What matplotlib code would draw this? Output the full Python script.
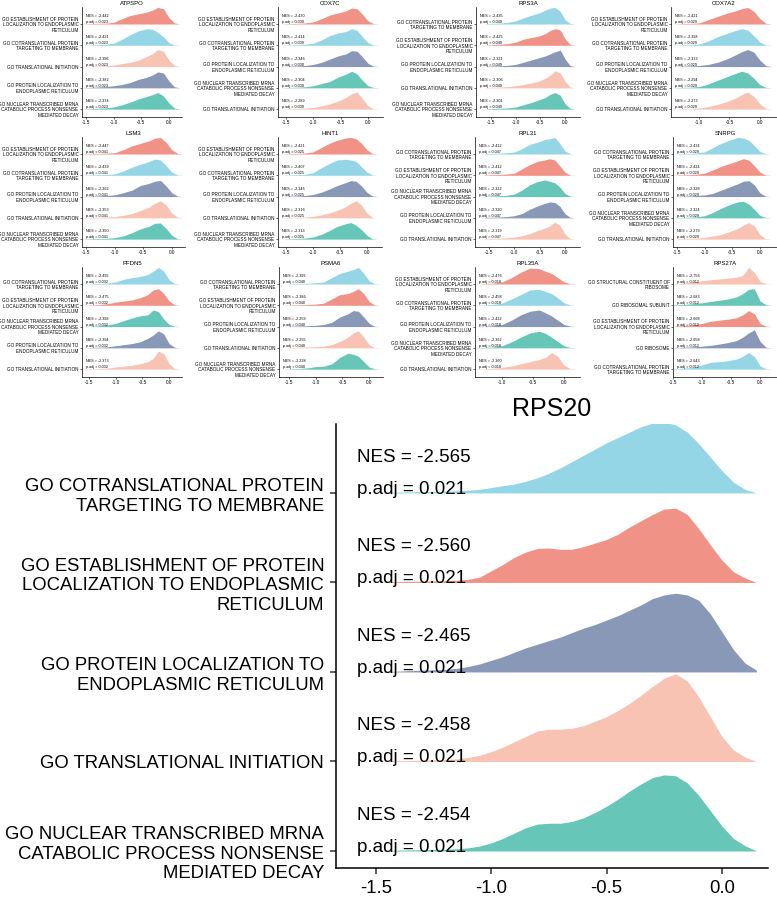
import numpy as np
import matplotlib.pyplot as plt
from matplotlib.transforms import blended_transform_factory

plt.rcParams['font.family'] = ['Liberation Sans', 'DejaVu Sans']
plt.rcParams['axes.unicode_minus'] = False

# pathway labels
EST = "GO ESTABLISHMENT OF PROTEIN\nLOCALIZATION TO ENDOPLASMIC\nRETICULUM"
COT = "GO COTRANSLATIONAL PROTEIN\nTARGETING TO MEMBRANE"
TIN = "GO TRANSLATIONAL INITIATION"
PLE = "GO PROTEIN LOCALIZATION TO\nENDOPLASMIC RETICULUM"
NMD = "GO NUCLEAR TRANSCRIBED MRNA\nCATABOLIC PROCESS NONSENSE\nMEDIATED DECAY"
SCR = "GO STRUCTURAL CONSTITUENT OF\nRIBOSOME"
RSU = "GO RIBOSOMAL SUBUNIT"
RIB = "GO RIBOSOME"

# x positions where the ridge heights of the small panels were read
x_small = [-1.6, -1.45, -1.3, -1.15, -1.0, -0.85, -0.7, -0.55, -0.4, -0.3, -0.2, -0.1, 0.0, 0.1, 0.2]

terms_ATPSPO = [EST, COT, TIN, PLE, NMD]
nes_ATPSPO = [-2.442, -2.431, -2.396, -2.382, -2.334]
padj_ATPSPO = 0.023
dens_ATPSPO = [
    [0, .02, .03, .04, .08, .25, .40, .48, .56, .65, .78, .72, .30, .05, 0],
    [0, .02, .03, .05, .10, .28, .50, .68, .78, .75, .60, .40, .12, .02, 0],
    [0, .02, .03, .04, .07, .14, .20, .30, .48, .60, .80, .72, .30, .05, 0],
    [0, .02, .04, .06, .10, .16, .25, .40, .50, .60, .75, .70, .32, .05, 0],
    [0, .02, .04, .06, .10, .20, .33, .48, .60, .68, .78, .62, .28, .05, 0]]

terms_COX7C = [EST, COT, PLE, NMD, TIN]
nes_COX7C = [-2.430, -2.414, -2.346, -2.304, -2.289]
padj_COX7C = 0.030
dens_COX7C = [
    [0, .02, .03, .05, .10, .25, .42, .52, .62, .75, .72, .45, .15, .02, 0],
    [0, .02, .03, .05, .10, .25, .45, .58, .65, .78, .70, .40, .12, .02, 0],
    [0, .02, .03, .05, .10, .20, .35, .50, .60, .75, .72, .45, .15, .02, 0],
    [0, .02, .03, .05, .10, .20, .30, .50, .65, .78, .65, .35, .10, .02, 0],
    [0, .02, .03, .05, .08, .15, .25, .38, .55, .72, .80, .50, .15, .02, 0]]

terms_RPS3A = [COT, EST, PLE, TIN, NMD]
nes_RPS3A = [-2.435, -2.425, -2.321, -2.306, -2.301]
padj_RPS3A = 0.049
dens_RPS3A = [
    [.02, .03, .05, .08, .15, .28, .40, .50, .65, .75, .78, .60, .20, .03, 0],
    [.02, .03, .05, .08, .15, .28, .36, .42, .55, .70, .78, .72, .30, .04, 0],
    [.02, .03, .04, .06, .10, .20, .30, .40, .50, .60, .70, .78, .35, .05, 0],
    [.02, .03, .04, .06, .10, .15, .22, .30, .45, .60, .80, .70, .30, .04, 0],
    [.02, .03, .04, .06, .10, .20, .30, .42, .55, .70, .78, .65, .25, .04, 0]]

terms_COX7A2 = [EST, COT, PLE, NMD, TIN]
nes_COX7A2 = [-2.421, -2.398, -2.333, -2.294, -2.273]
padj_COX7A2 = 0.029
dens_COX7A2 = [
    [0, 0, .02, .03, .05, .20, .35, .50, .62, .72, .78, .60, .25, .03, 0],
    [0, 0, .02, .03, .06, .20, .40, .55, .70, .78, .72, .45, .15, .02, 0],
    [0, 0, .02, .03, .05, .10, .20, .35, .55, .70, .80, .68, .30, .04, 0],
    [0, 0, .02, .03, .06, .18, .35, .52, .68, .78, .70, .45, .15, .02, 0],
    [0, 0, .02, .03, .05, .12, .22, .35, .52, .68, .80, .60, .25, .03, 0]]

terms_LSM3 = [EST, COT, PLE, TIN, NMD]
nes_LSM3 = [-2.447, -2.439, -2.362, -2.353, -2.350]
padj_LSM3 = 0.041
dens_LSM3 = [
    [0, .02, .03, .04, .06, .20, .38, .50, .62, .74, .78, .55, .20, .03, 0],
    [0, .02, .03, .04, .07, .20, .38, .52, .65, .76, .72, .45, .15, .02, 0],
    [0, .02, .03, .05, .08, .18, .30, .52, .62, .72, .76, .50, .18, .02, 0],
    [0, .02, .03, .04, .06, .12, .20, .35, .50, .68, .80, .60, .22, .03, 0],
    [0, .02, .03, .04, .07, .15, .30, .48, .60, .74, .76, .50, .18, .02, 0]]

terms_HINT1 = [EST, COT, PLE, TIN, NMD]
nes_HINT1 = [-2.421, -2.407, -2.346, -2.316, -2.313]
padj_HINT1 = 0.025
dens_HINT1 = [
    [0, .02, .03, .05, .10, .30, .50, .65, .75, .78, .72, .50, .20, .03, 0],
    [0, .02, .03, .05, .12, .35, .55, .72, .75, .72, .65, .40, .15, .02, 0],
    [0, .02, .03, .05, .10, .20, .35, .52, .65, .75, .72, .50, .20, .03, 0],
    [0, .02, .03, .04, .07, .14, .22, .35, .52, .68, .80, .60, .22, .03, 0],
    [0, .02, .03, .05, .10, .22, .40, .60, .72, .78, .65, .45, .18, .02, 0]]

terms_RPL31 = [COT, EST, NMD, PLE, TIN]
nes_RPL31 = [-2.412, -2.412, -2.322, -2.320, -2.319]
padj_RPL31 = 0.047
dens_RPL31 = [
    [.02, .03, .04, .06, .10, .25, .45, .55, .68, .72, .78, .50, .15, .02, 0],
    [.02, .03, .04, .06, .10, .30, .50, .65, .72, .78, .72, .45, .15, .02, 0],
    [.02, .03, .04, .06, .12, .30, .55, .70, .78, .72, .65, .45, .15, .02, 0],
    [.02, .03, .04, .06, .10, .20, .40, .55, .68, .75, .72, .55, .20, .03, 0],
    [.02, .03, .04, .06, .10, .16, .25, .40, .52, .62, .80, .65, .25, .03, 0]]

terms_SNRPG = [COT, EST, PLE, NMD, TIN]
nes_SNRPG = [-2.434, -2.424, -2.328, -2.324, -2.279]
padj_SNRPG = 0.029
dens_SNRPG = [
    [0, .02, .03, .05, .10, .30, .50, .65, .78, .75, .65, .40, .12, .02, 0],
    [0, .02, .03, .05, .10, .25, .42, .55, .68, .78, .72, .45, .15, .02, 0],
    [0, .02, .03, .05, .08, .15, .30, .45, .60, .72, .75, .55, .18, .02, 0],
    [0, .02, .03, .05, .10, .25, .45, .62, .75, .78, .65, .40, .12, .02, 0],
    [0, .02, .03, .05, .08, .15, .22, .35, .50, .65, .78, .62, .22, .03, 0]]

terms_PFDN5 = [COT, EST, NMD, PLE, TIN]
nes_PFDN5 = [-2.495, -2.475, -2.398, -2.394, -2.373]
padj_PFDN5 = 0.032
dens_PFDN5 = [
    [0, .02, .03, .05, .10, .22, .30, .35, .45, .60, .78, .60, .20, .03, 0],
    [0, .02, .04, .08, .15, .20, .25, .35, .50, .72, .78, .55, .20, .03, 0],
    [0, .02, .04, .08, .15, .28, .40, .50, .55, .78, .70, .35, .10, .02, 0],
    [0, .02, .03, .05, .10, .15, .20, .28, .45, .60, .80, .65, .20, .03, 0],
    [0, .02, .03, .05, .10, .14, .18, .25, .35, .50, .85, .72, .25, .03, 0]]

terms_PSMA6 = [COT, EST, PLE, TIN, NMD]
nes_PSMA6 = [-2.393, -2.386, -2.259, -2.255, -2.238]
padj_PSMA6 = 0.040
dens_PSMA6 = [
    [0, .02, .03, .04, .06, .10, .30, .50, .60, .68, .78, .50, .15, .02, 0],
    [0, .02, .03, .04, .06, .10, .30, .50, .55, .65, .78, .55, .18, .02, 0],
    [0, .02, .03, .04, .06, .10, .20, .45, .60, .75, .72, .45, .15, .02, 0],
    [0, .02, .03, .04, .06, .08, .15, .30, .50, .70, .80, .50, .15, .02, 0],
    [0, .02, .03, .06, .12, .14, .25, .55, .75, .70, .60, .35, .10, .02, 0]]

terms_RPL35A = [EST, COT, PLE, NMD, TIN]
nes_RPL35A = [-2.476, -2.458, -2.422, -2.362, -2.360]
padj_RPL35A = 0.018
dens_RPL35A = [
    [0, 0, .02, .04, .10, .30, .55, .75, .72, .60, .50, .30, .10, .02, 0],
    [0, 0, .02, .04, .10, .30, .50, .72, .75, .65, .55, .35, .12, .02, 0],
    [0, 0, .02, .04, .10, .30, .55, .72, .78, .65, .50, .30, .10, .02, 0],
    [0, 0, .02, .04, .10, .28, .50, .70, .78, .68, .50, .30, .10, .02, 0],
    [0, 0, .02, .04, .08, .15, .25, .35, .45, .55, .78, .60, .20, .03, 0]]

terms_RPS27A = [SCR, RSU, EST, RIB, COT]
nes_RPS27A = [-2.756, -2.683, -2.668, -2.658, -2.643]
padj_RPS27A = 0.012
dens_RPS27A = [
    [0, .02, .05, .10, .15, .20, .24, .28, .32, .40, .78, .55, .12, .02, 0],
    [0, .02, .04, .08, .12, .18, .24, .30, .40, .55, .75, .78, .20, .03, 0],
    [0, .02, .05, .08, .15, .25, .30, .35, .42, .55, .75, .60, .15, .02, 0],
    [0, .02, .03, .05, .08, .12, .18, .25, .35, .50, .70, .85, .30, .03, 0],
    [0, .02, .05, .08, .20, .32, .35, .40, .48, .60, .78, .60, .15, .02, 0]]

# big panel (heights read every 0.05)
x_big = [-1.5, -1.45, -1.4, -1.35, -1.3, -1.25, -1.2, -1.15, -1.1, -1.05,
         -1.0, -0.95, -0.9, -0.85, -0.8, -0.75, -0.7, -0.65, -0.6, -0.55,
         -0.5, -0.45, -0.4, -0.35, -0.3, -0.25, -0.2, -0.15, -0.1, -0.05,
         0.0, 0.05, 0.1, 0.15]
terms_RPS20 = [COT, EST, PLE, TIN, NMD]
nes_RPS20 = [-2.565, -2.560, -2.465, -2.458, -2.454]
padj_RPS20 = 0.021
dens_RPS20 = [
    [0, .005, .01, .012, .015, .018, .02, .025, .03, .04,
     .06, .08, .10, .13, .17, .22, .28, .35, .42, .49,
     .56, .62, .68, .74, .78, .79, .76, .68, .55, .40,
     .25, .12, .04, 0],
    [0, .005, .01, .012, .015, .018, .02, .025, .035, .06,
     .13, .20, .28, .34, .38, .385, .37, .37, .40, .44,
     .48, .54, .62, .69, .76, .82, .83, .76, .60, .42,
     .25, .12, .05, 0],
    [0, .005, .01, .015, .02, .025, .03, .04, .06, .09,
     .13, .17, .22, .27, .31, .35, .39, .44, .49, .53,
     .58, .63, .69, .75, .82, .86, .88, .86, .80, .65,
     .45, .25, .10, .02],
    [0, .005, .01, .012, .015, .018, .02, .03, .045, .07,
     .11, .16, .22, .28, .34, .36, .36, .37, .40, .45,
     .50, .57, .65, .74, .84, .93, .98, .90, .72, .50,
     .28, .13, .05, 0],
    [0, .005, .01, .012, .015, .018, .02, .025, .035, .055,
     .09, .14, .20, .26, .30, .31, .31, .33, .37, .43,
     .50, .58, .67, .75, .82, .85, .84, .76, .62, .45,
     .28, .14, .06, 0]]

panels = [
    ("ATPSPO", terms_ATPSPO, nes_ATPSPO, padj_ATPSPO, dens_ATPSPO),
    ("COX7C", terms_COX7C, nes_COX7C, padj_COX7C, dens_COX7C),
    ("RPS3A", terms_RPS3A, nes_RPS3A, padj_RPS3A, dens_RPS3A),
    ("COX7A2", terms_COX7A2, nes_COX7A2, padj_COX7A2, dens_COX7A2),
    ("LSM3", terms_LSM3, nes_LSM3, padj_LSM3, dens_LSM3),
    ("HINT1", terms_HINT1, nes_HINT1, padj_HINT1, dens_HINT1),
    ("RPL31", terms_RPL31, nes_RPL31, padj_RPL31, dens_RPL31),
    ("SNRPG", terms_SNRPG, nes_SNRPG, padj_SNRPG, dens_SNRPG),
    ("PFDN5", terms_PFDN5, nes_PFDN5, padj_PFDN5, dens_PFDN5),
    ("PSMA6", terms_PSMA6, nes_PSMA6, padj_PSMA6, dens_PSMA6),
    ("RPL35A", terms_RPL35A, nes_RPL35A, padj_RPL35A, dens_RPL35A),
    ("RPS27A", terms_RPS27A, nes_RPS27A, padj_RPS27A, dens_RPS27A),
]

# colours (npg palette with alpha .6 over white)
RED, CYAN, GREEN, BLUE, PEACH = "#F09386", "#94D6E6", "#66C6B7", "#8A98B8", "#F8C3B2"
col = {EST: RED, COT: CYAN, TIN: PEACH, PLE: BLUE, NMD: GREEN,
       SCR: PEACH, RSU: GREEN, RIB: BLUE}

# layout in pixels: left, right, top, bottom ; x limits
W, H = 777, 907
boxes = {
    "ATPSPO": (82, 182, 7, 117), "COX7C": (278, 383, 7, 117),
    "RPS3A": (476, 580, 7, 117), "COX7A2": (671, 777, 7, 117),
    "LSM3": (82, 185, 137, 247), "HINT1": (278, 382, 137, 247),
    "RPL31": (475, 580, 137, 247), "SNRPG": (673, 777, 137, 247),
    "PFDN5": (82, 182, 267, 377), "PSMA6": (279, 383, 267, 377),
    "RPL35A": (475, 580, 267, 377), "RPS27A": (673, 777, 267, 377),
}
xlims = {
    "ATPSPO": (-1.57, 0.235), "COX7C": (-1.646, 0.274), "RPS3A": (-1.80, 0.30),
    "COX7A2": (-1.46, 0.28), "LSM3": (-1.57, 0.23), "HINT1": (-1.65, 0.28),
    "RPL31": (-1.78, 0.30), "SNRPG": (-1.57, 0.31), "PFDN5": (-1.63, 0.24),
    "PSMA6": (-1.69, 0.26), "RPL35A": (-1.44, 0.26), "RPS27A": (-1.5, 0.29),
}


def ridge_panel(ax, x, terms, nes, padj, dens, xlim, ticks, s):
    # s: size dict
    n = len(terms)
    base = np.arange(n, 0, -1)
    for i in range(n):
        ax.fill_between(x, base[i], base[i] + np.array(dens[i]),
                        color=col[terms[i]], lw=0, zorder=2 + i)
    tr = blended_transform_factory(ax.transAxes, ax.transData)
    for i in range(n):
        ax.text(s['tx'], base[i] + s['nes_dy'], "NES = %.3f" % nes[i],
                transform=tr, fontsize=s['nes'], va='center', ha='left', zorder=20)
        ax.text(s['tx'], base[i] + s['p_dy'], "p.adj = %.3f" % padj,
                transform=tr, fontsize=s['nes'], va='center', ha='left', zorder=20)
    ax.set_yticks(base)
    ax.set_yticklabels(terms, fontsize=s['lab'], linespacing=s['ls'])
    ax.set_xticks(ticks)
    ax.set_xticklabels(["%.1f" % t for t in ticks], fontsize=s['tick'])
    ax.set_xlim(*xlim)
    ax.set_ylim(1 - s['below'], n + s['above'])
    for sp in ['top', 'right']:
        ax.spines[sp].set_visible(False)
    for sp in ['left', 'bottom']:
        ax.spines[sp].set_linewidth(s['lw'])
    ax.tick_params(width=s['lw'], length=s['tl'], pad=s['pad'], colors='#333333',
                   labelcolor='black')


fig = plt.figure(figsize=(W / 100, H / 100), dpi=100)

small = dict(tx=0.04, nes_dy=0.37, p_dy=0.09, nes=2.7, lab=3.3, ls=1.15, tick=3.4,
             below=0.37, above=0.8, lw=0.5, tl=1.5, pad=1.0)
for name, terms, nes, padj, dens in panels:
    l, r, t, b = boxes[name]
    ax = fig.add_axes([l / W, 1 - b / H, (r - l) / W, (b - t) / H])
    ticks = [-1.0, -0.5, 0.0] if name in ("COX7A2", "RPL35A") else [-1.5, -1.0, -0.5, 0.0]
    ridge_panel(ax, x_small, terms, nes, padj, dens, xlims[name], ticks, small)
    ax.set_title(name, fontsize=4.3, pad=1.5)

big = dict(tx=0.049, nes_dy=0.40, p_dy=0.04, nes=13.5, lab=13.3, ls=1.2, tick=13.3,
           below=0.19, above=0.77, lw=1.1, tl=4.5, pad=4)
ax = fig.add_axes([336 / W, 1 - 868 / H, (768 - 336) / W, (868 - 424) / H])
ridge_panel(ax, x_big, terms_RPS20, nes_RPS20, padj_RPS20, dens_RPS20,
            (-1.673, 0.2), [-1.5, -1.0, -0.5, 0.0], big)
ax.set_title("RPS20", fontsize=18, pad=6)

fig.savefig("out.png", dpi=100)
